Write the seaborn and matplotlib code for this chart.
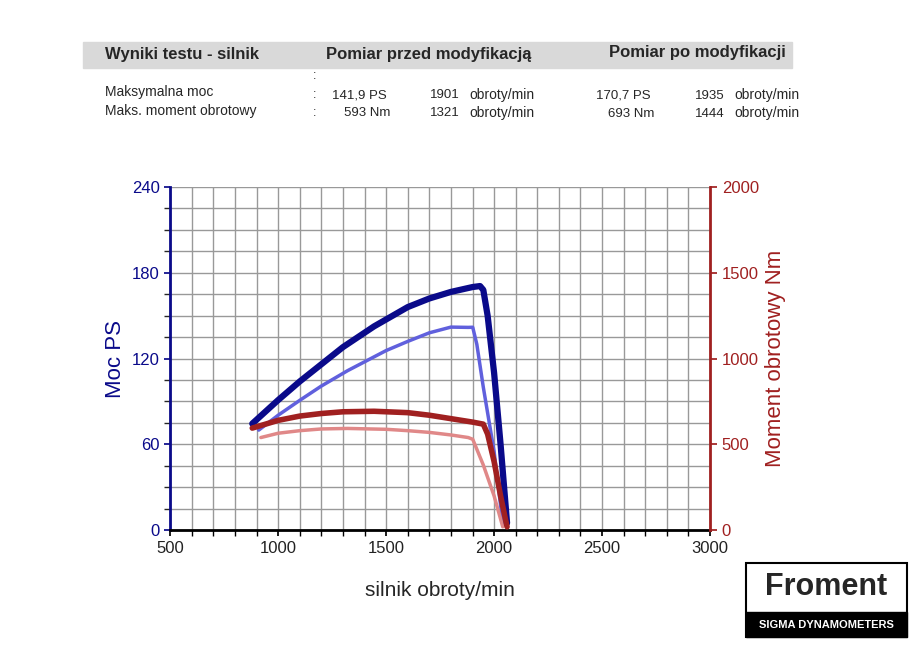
import matplotlib
matplotlib.use("Agg")
import matplotlib.pyplot as plt
import seaborn as sns
import pandas as pd
from matplotlib.patches import Rectangle

rpm_after = [880, 1000, 1100, 1200, 1300, 1444, 1600, 1700, 1800, 1900, 1935, 1950, 1970, 2000, 2030, 2060]
power_after = [74.5, 91, 104, 116, 128, 142.5, 156, 162, 166.6, 170, 170.7, 168, 150, 110, 60, 5]
rpm_after_t = [880, 1000, 1100, 1200, 1300, 1444, 1600, 1700, 1800, 1900, 1950, 1970, 2000, 2030, 2060]
torque_after = [595, 640, 665, 680, 690, 693, 685, 670, 650, 630, 618, 560, 400, 200, 20]
rpm_before_t = [920, 1000, 1100, 1200, 1321, 1500, 1600, 1700, 1800, 1880, 1901, 1950, 2000, 2040]
torque_before = [540, 565, 580, 590, 593, 588, 580, 570, 555, 540, 530, 380, 200, 20]
rpm_before = [910, 1000, 1100, 1200, 1321, 1500, 1600, 1700, 1800, 1880, 1901, 1920, 1950, 2000, 2040]
power_before = [70, 80.4, 90.8, 100.8, 111.5, 125.6, 132, 138, 142, 141.8, 141.9, 130, 100, 55, 5]

sns.set_theme(style="white")
plt.rcParams['font.family'] = ['Liberation Sans', 'DejaVu Sans']

fig = plt.figure(figsize=(9.15, 6.49), dpi=100)
ax = fig.add_axes([0.186, 0.183, 0.590, 0.529])
ax2 = ax.twinx()

sns.lineplot(x=rpm_before, y=power_before, ax=ax, color="#6060dd", lw=2.5, zorder=3)
sns.lineplot(x=rpm_after, y=power_after, ax=ax, color="#0a0a8a", lw=4.5, zorder=4)
sns.lineplot(x=rpm_before_t, y=torque_before, ax=ax2, color="#e08888", lw=2.5)
sns.lineplot(x=rpm_after_t, y=torque_after, ax=ax2, color="#a02020", lw=4)

ax.set_xlim(500, 3000)
ax.set_ylim(0, 240)
ax2.set_ylim(0, 2000)
ax.set_xticks(range(500, 3001, 500))
ax.set_xticks(range(500, 3001, 100), minor=True)
ax.set_yticks([0, 60, 120, 180, 240])
ax.set_yticks([i * 15 for i in range(17)], minor=True)
ax2.set_yticks([0, 500, 1000, 1500, 2000])
ax.grid(True, which='both', color='#999999', lw=1)
ax.set_axisbelow(True)
ax.tick_params(axis='x', which='both', bottom=True, length=4, color='black', labelsize=12, colors='#222222')
ax.tick_params(axis='y', labelsize=12, labelcolor='#0a0a8a', left=True, length=4, color='#0a0a8a')
ax2.tick_params(axis='y', labelsize=12, labelcolor='#a02020', right=True, length=5, color='#a02020')
for s in ['top', 'right']:
    ax.spines[s].set_visible(False)
ax2.spines['top'].set_visible(False)
ax2.spines['left'].set_visible(False)
ax.spines['left'].set_color('#0a0a8a'); ax.spines['left'].set_linewidth(2)
ax2.spines['right'].set_color('#a02020'); ax2.spines['right'].set_linewidth(2)
ax.spines['bottom'].set_color('black'); ax.spines['bottom'].set_linewidth(2)
ax2.spines['bottom'].set_visible(False)
ax.set_xlabel("silnik obroty/min", fontsize=15, labelpad=18)
ax.set_ylabel("Moc PS", fontsize=16, color='#0a0a8a')
ax2.set_ylabel("Moment obrotowy Nm", fontsize=16, color='#a02020')

# header
fig.patches.append(Rectangle((83/915, 1-68/649), 709/915, 26/649, transform=fig.transFigure, color='#d9d9d9', zorder=0))
def T(x, y, s, **kw):
    fig.text(x/915, 1-y/649, s, va='center', **kw)
T(105, 55, "Wyniki testu - silnik", fontsize=12, fontweight='bold')
T(326, 55, "Pomiar przed modyfikacją", fontsize=12, fontweight='bold')
T(609, 53, "Pomiar po modyfikacji", fontsize=12, fontweight='bold')
T(105, 92, "Maksymalna moc", fontsize=10)
T(105, 111, "Maks. moment obrotowy", fontsize=10)
T(313, 76, ":", fontsize=9)
T(313, 95, ":", fontsize=9)
T(313, 113, ":", fontsize=9)
T(387, 95, "141,9 PS", fontsize=9.5, ha='right')
T(390, 113, "593 Nm", fontsize=9.5, ha='right')
T(460, 95, "1901", fontsize=9.5, ha='right')
T(460, 113, "1321", fontsize=9.5, ha='right')
T(469, 95, "obroty/min", fontsize=10)
T(469, 113, "obroty/min", fontsize=10)
T(651, 96, "170,7 PS", fontsize=9.5, ha='right')
T(654, 114, "693 Nm", fontsize=9.5, ha='right')
T(725, 96, "1935", fontsize=9.5, ha='right')
T(725, 114, "1444", fontsize=9.5, ha='right')
T(734, 95, "obroty/min", fontsize=10)
T(734, 113, "obroty/min", fontsize=10)

# logo
fig.patches.append(Rectangle((746/915, 1-637/649), 161/915, 74/649, transform=fig.transFigure, facecolor='white', edgecolor='black', lw=1.5))
fig.patches.append(Rectangle((746/915, 1-637/649), 161/915, 25/649, transform=fig.transFigure, color='black'))
T(826, 587, "Froment", fontsize=22, fontweight='bold', ha='center')
T(826, 625, "SIGMA DYNAMOMETERS", fontsize=8, fontweight='bold', ha='center', color='white')

fig.savefig("out.png", dpi=100, facecolor='white')
